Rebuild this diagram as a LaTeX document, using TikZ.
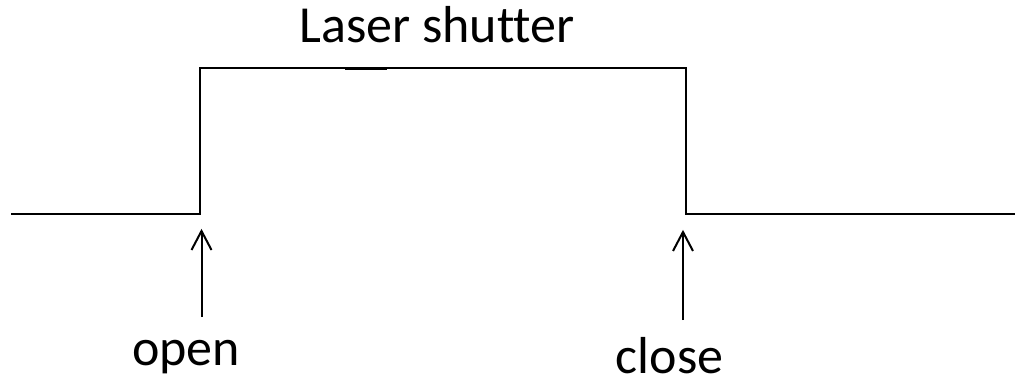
\documentclass[tikz,border=0pt]{standalone}
\usepackage{fontspec}
\setmainfont[Ligatures=NoCommon]{Carlito}
\begin{document}
\begin{tikzpicture}[x=1pt,y=-1pt,
  sig/.style={line width=2pt,line join=miter},
  shaft/.style={line width=2pt},
  barb/.style={line width=2pt,line join=miter,line cap=butt},
  lbl/.style={font=\fontsize{52}{62}\selectfont,inner sep=0pt}]
\useasboundingbox (0,0) rectangle (1017,379);
\coordinate (s0) at (11,214);
\coordinate (r0) at (200,214);
\coordinate (r1) at (200,68);
\coordinate (f1) at (686,68);
\coordinate (f0) at (686,214);
\coordinate (s1) at (1015,214);
\draw[sig] (s0) -- (r0) -- (r1) -- (f1) -- (f0) -- (s1);
\coordinate (m0) at (345,69);
\coordinate (m1) at (387,69);
\draw[line width=2.6pt] (m0) -- (m1);
\node[lbl,anchor=base] (title) at (437,43) {Laser shutter};
\node[lbl,anchor=base] (open) at (186,365) {open};
\node[lbl,anchor=base,text depth=0pt] (close) at (669.5,373) {close};
\coordinate (oa0) at (201.5,317);
\coordinate (oa1) at (201.5,231);
\coordinate (ca0) at (683,320);
\coordinate (ca1) at (683,232);
\draw[shaft] (oa0) -- (oa1);
\draw[shaft] (ca0) -- (ca1);
\draw[barb] (oa1) ++(-10,19) -- (oa1) -- ++(10,19);
\draw[barb] (ca1) ++(-10,19) -- (ca1) -- ++(10,19);
\end{tikzpicture}
\end{document}
